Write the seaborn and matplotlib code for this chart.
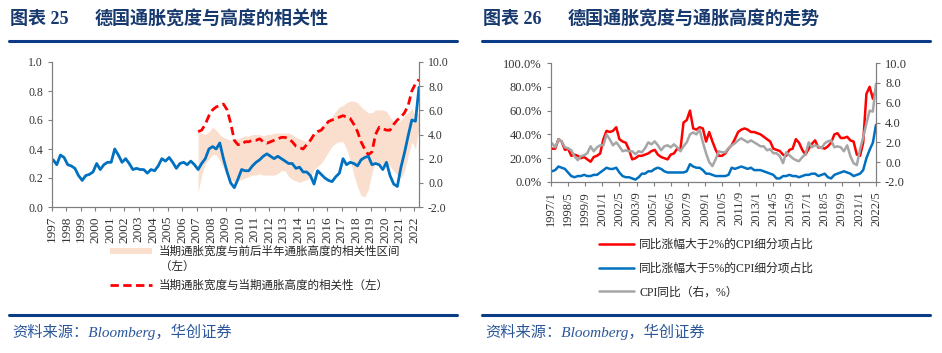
import pandas as pd
import matplotlib.pyplot as plt
import matplotlib.dates as mdates
import matplotlib.ticker as mticker
from matplotlib.lines import Line2D
import seaborn as sns

# quarterly samples, 1997/2 .. 2022/5
dates = pd.date_range("1997-02-01", periods=102, freq="3MS")

# German CPI yoy (%)
cpi_yoy = [
    1.9, 1.5, 2.3, 2.1,   1.5, 1.4, 1.2, 0.6,   0.2, 0.6, 0.7, 0.9,   1.6, 1.1, 1.5, 1.7,
    1.7, 2.8, 2.3, 1.7,   2.0, 1.6, 1.1, 1.2,   1.1, 1.1, 0.8, 1.1,   1.0, 1.4, 2.0, 1.8,
    2.1, 1.7, 1.2, 1.6,   1.7, 1.5, 1.8, 1.5,   1.1, 1.6, 2.0, 2.8,   3.0, 2.8, 3.3, 2.0,
    0.9, 0.0, -0.4, 0.3,  1.1, 1.0, 1.0, 1.4,   1.7, 1.9, 2.2, 2.4,   2.2, 2.0, 2.2, 2.0,
    1.8, 1.6, 1.6, 1.2,   1.3, 0.9, 0.9, 0.6,   -0.1, 1.0, 0.7, 0.4,  0.2, 0.1, 0.5, 0.8,
    2.0, 1.5, 1.7, 1.6,   1.4, 1.9, 2.1, 2.2,   1.5, 1.6, 1.5, 1.1,   1.7, 0.6, -0.1, -0.3,
    1.3, 2.5, 3.9, 5.2,   5.1, 7.9,
]

# share of CPI items with yoy above 2% / 5% (%)
share_above_2 = [
    28, 28, 36, 34,   27, 28, 22, 23,   22, 20, 21, 19,   17, 21, 22, 24,
    36, 43, 42, 43,   46, 36, 34, 33,   27, 19, 20, 22,   22, 23, 24, 26,
    27, 23, 21, 20,   19, 23, 24, 28,   27, 50, 52, 60,   45, 44, 46, 45,
    34, 42, 34, 27,   22, 22, 24, 28,   31, 36, 42, 44,   45, 44, 42, 42,
    41, 40, 38, 36,   34, 28, 27, 26,   23, 22, 27, 28,   36, 33, 27, 23,
    28, 32, 35, 29,   29, 28, 30, 33,   40, 41, 37, 37,   38, 35, 34, 23,
    22, 33, 74, 80,   70, 78,
]
share_above_5 = [
    9, 10, 13, 12,   11, 8, 5, 4,    5, 5, 6, 5,     5, 6, 6, 8,
    10, 12, 11, 11,  12, 8, 5, 4,    4, 3, 2, 4,     7, 7, 9, 9,
    11, 12, 11, 9,   8, 8, 8, 8,     8, 8, 9, 15,    13, 12, 12, 10,
    7, 7, 6, 5,      5, 5, 5, 6,     12, 11, 12, 13, 12, 11, 12, 10,
    10, 10, 9, 8,    7, 6, 3, 3,     5, 5, 6, 5,     5, 4, 5, 6,
    6, 7, 7, 5,      6, 7, 4, 3,     6, 7, 8, 9,     8, 7, 5, 6,
    7, 10, 20, 27,   33, 48,
]

# correlation series, 2007/2 .. 2022/5
corr_dates = pd.date_range("2007-02-01", periods=62, freq="3MS")
corr_now = [
    0.52, 0.53, 0.57, 0.63,   0.67, 0.69, 0.70, 0.71,   0.67, 0.58, 0.46, 0.43,
    0.43, 0.45, 0.45, 0.46,   0.46, 0.47, 0.45, 0.44,   0.45, 0.46, 0.47, 0.48,
    0.48, 0.47, 0.45, 0.42,   0.41, 0.40, 0.43, 0.46,   0.50, 0.52, 0.53, 0.56,
    0.59, 0.60, 0.61, 0.62,   0.63, 0.62, 0.61, 0.57,   0.52, 0.45, 0.40, 0.36,
    0.38, 0.50, 0.55, 0.54,   0.53, 0.53, 0.57, 0.60,   0.62, 0.65, 0.70, 0.80,
    0.85, 0.88,
]
band_low = [
    0.10, 0.22, 0.30, 0.33,   0.36, 0.36, 0.32, 0.27,   0.22, 0.19, 0.17, 0.18,
    0.19, 0.20, 0.21, 0.22,   0.22, 0.23, 0.22, 0.22,   0.22, 0.22, 0.23, 0.25,
    0.25, 0.21, 0.19, 0.18,   0.17, 0.18, 0.19, 0.20,   0.26, 0.28, 0.30, 0.34,
    0.38, 0.42, 0.44, 0.45,   0.45, 0.40, 0.32, 0.22,   0.14, 0.08, 0.07, 0.12,
    0.24, 0.31, 0.30, 0.29,   0.30, 0.28, 0.25, 0.22,   0.20, 0.25, 0.35, 0.45,
    0.40, 0.55,
]
band_high = [
    0.52, 0.51, 0.50, 0.52,   0.55, 0.53, 0.50, 0.48,   0.47, 0.46, 0.47, 0.47,
    0.48, 0.49, 0.49, 0.50,   0.50, 0.50, 0.49, 0.50,   0.50, 0.51, 0.51, 0.51,
    0.51, 0.51, 0.50, 0.48,   0.47, 0.46, 0.45, 0.47,   0.50, 0.53, 0.55, 0.58,
    0.58, 0.62, 0.66, 0.69,   0.70, 0.72, 0.73, 0.73,   0.72, 0.69, 0.67, 0.65,
    0.65, 0.67, 0.67, 0.67,   0.66, 0.62, 0.59, 0.58,   0.60, 0.63, 0.65, 0.68,
    0.62, 0.66,
]

RED = "#FF0000"
BLUE = "#0070C0"
GREY = "#A6A6A6"
PEACH = "#FADFCF"
NAVY = "#17396E"
RULE = "#0B3C85"
SPINE = "#7F7F7F"

sns.set_style("ticks")
plt.rcParams["font.family"] = ["Liberation Serif", "Noto Sans CJK SC"]
plt.rcParams["axes.unicode_minus"] = False

fig = plt.figure(figsize=(9.42, 3.53), dpi=100)
W, H = 942, 353


def fx(px):
    return px / W


def fy(py):
    return 1 - py / H


def style_axis(ax, size):
    for s in ax.spines.values():
        s.set_color(SPINE)
        s.set_linewidth(0.8)
    ax.spines["top"].set_visible(False)
    ax.tick_params(colors=SPINE, labelcolor="#333333", labelsize=size, length=3, width=0.8)


# ---------------- left: correlation chart ----------------
ax1 = fig.add_axes([fx(52), fy(207), fx(367), 145 / H])
band = ax1.fill_between(corr_dates, band_low, band_high, color=PEACH, lw=0,
                        label="当期通胀宽度与前后半年通胀高度的相关性区间")
sns.lineplot(x=corr_dates, y=corr_now, ax=ax1, color=RED, lw=2.0, linestyle=(0, (3, 1.6)),
             label="当期通胀宽度与当期通胀高度的相关性（左）", legend=False)
ax1r = ax1.twinx()
sns.lineplot(x=dates, y=cpi_yoy, ax=ax1r, color=BLUE, lw=2.0, legend=False)

ax1.set_xlim(pd.Timestamp("1997-01-01"), pd.Timestamp("2022-05-01"))
ax1.set_ylim(0, 1)
ax1r.set_ylim(-2, 10)
ax1.set_yticks([0, 0.2, 0.4, 0.6, 0.8, 1.0])
ax1r.set_yticks(range(-2, 11, 2))
ax1.yaxis.set_major_formatter(mticker.FormatStrFormatter("%.1f"))
ax1r.yaxis.set_major_formatter(mticker.FormatStrFormatter("%.1f"))
ax1.xaxis.set_major_locator(mdates.YearLocator())
ax1.xaxis.set_major_formatter(mdates.DateFormatter("%Y"))
for a in (ax1, ax1r):
    style_axis(a, 8.5)
    a.set_xlabel("")
    a.set_ylabel("")
ax1.tick_params(axis="x", labelsize=9.5)
plt.setp(ax1.get_xticklabels(), rotation=90)

red_handle = ax1.get_lines()[0]
fig.legend(handles=[band, red_handle],
           labels=["当期通胀宽度与前后半年通胀高度的相关性区间", "当期通胀宽度与当期通胀高度的相关性（左）"],
           loc="upper left", bbox_to_anchor=(fx(110), fy(246)), frameon=False,
           fontsize=8.3, handlelength=3.6, handleheight=0.35, handletextpad=0.6,
           labelspacing=1.9, borderpad=0, borderaxespad=0)
fig.text(fx(160), fy(268), "（左）", fontsize=8.3, va="center", ha="left")

# ---------------- right: breadth vs height ----------------
ax2 = fig.add_axes([fx(551), fy(182), fx(325), 119 / H])
sns.lineplot(x=dates, y=share_above_2, ax=ax2, color=RED, lw=1.8,
             label="同比涨幅大于2%的CPI细分项占比", legend=False)
sns.lineplot(x=dates, y=share_above_5, ax=ax2, color=BLUE, lw=1.8,
             label="同比涨幅大于5%的CPI细分项占比", legend=False)
ax2r = ax2.twinx()
sns.lineplot(x=dates, y=cpi_yoy, ax=ax2r, color=GREY, lw=1.8,
             label="CPI同比（右，%）", legend=False)

ax2.set_xlim(pd.Timestamp("1997-01-01"), pd.Timestamp("2022-05-01"))
ax2.set_ylim(0, 100)
ax2r.set_ylim(-2, 10)
ax2.set_yticks(range(0, 101, 20))
ax2r.set_yticks(range(-2, 11, 2))
ax2.yaxis.set_major_formatter(mticker.FuncFormatter(lambda v, p: f"{v:.1f}%"))
ax2r.yaxis.set_major_formatter(mticker.FormatStrFormatter("%.1f"))
xt = pd.date_range("1997-01-01", "2022-05-01", freq="16MS")
ax2.set_xticks(xt)
ax2.set_xticklabels([f"{d.year}/{d.month}" for d in xt], rotation=90)
for a in (ax2, ax2r):
    style_axis(a, 9)
    a.set_xlabel("")
    a.set_ylabel("")

h2 = ax2.get_lines() + ax2r.get_lines()
fig.legend(handles=h2, labels=[h.get_label() for h in h2],
           loc="upper left", bbox_to_anchor=(fx(599), fy(239)), frameon=False,
           fontsize=8.5, handlelength=3.0, handletextpad=0.4,
           labelspacing=1.0, borderpad=0, borderaxespad=0)

# ---------------- titles, rules, sources ----------------
for x0, x1, num, title in [(9, 457, "图表 25", "德国通胀宽度与高度的相关性"),
                           (482, 930, "图表 26", "德国通胀宽度与通胀高度的走势")]:
    fig.text(fx(x0 + 1), fy(20), num, fontsize=13, fontweight="bold", color=NAVY,
             va="center", ha="left")
    fig.text(fx(x0 + 86), fy(20), title, fontsize=13, fontweight="bold", color=NAVY,
             va="center", ha="left")
    fig.add_artist(Line2D([fx(x0), fx(x1)], [fy(41), fy(41)], color=RULE, lw=2.2))
    fig.add_artist(Line2D([fx(x0), fx(x1)], [fy(315), fy(315)], color=RULE, lw=2.2))
    fig.text(fx(x0 + 3), fy(332), "资料来源：Bloomberg，华创证券", fontsize=11,
             style="italic", color="#2B579A", va="center", ha="left")

fig.savefig("out.png", dpi=100)
